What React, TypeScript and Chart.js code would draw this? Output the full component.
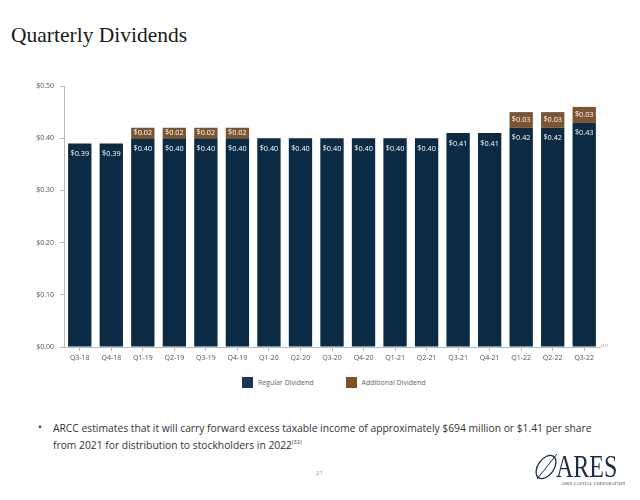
import React, { useEffect, useRef } from "react";
import { Chart, registerables } from "chart.js";

Chart.register(...registerables);

const categories = [
  "Q3-18", "Q4-18", "Q1-19", "Q2-19", "Q3-19", "Q4-19", "Q1-20", "Q2-20", "Q3-20",
  "Q4-20", "Q1-21", "Q2-21", "Q3-21", "Q4-21", "Q1-22", "Q2-22", "Q3-22",
];
const regularDividend = [
  0.39, 0.39, 0.4, 0.4, 0.4, 0.4, 0.4, 0.4, 0.4, 0.4, 0.4, 0.4, 0.41, 0.41, 0.42, 0.42, 0.43,
];
const additionalDividend = [
  0, 0, 0.02, 0.02, 0.02, 0.02, 0, 0, 0, 0, 0, 0, 0, 0, 0.03, 0.03, 0.03,
];
const seriesNames = ["Regular Dividend", "Additional Dividend"];
const seriesColors = ["#0b2a43", "#7c5530"];
const yTickValues = [0, 0.1, 0.2, 0.3, 0.4, 0.5];

const FONT = "'Open Sans', 'DejaVu Sans', sans-serif";

const barLabels = {
  id: "barLabels",
  afterDatasetsDraw(chart: any) {
    const ctx = chart.ctx;
    ctx.save();
    ctx.fillStyle = "#ffffff";
    ctx.font = `7.3px ${FONT}`;
    ctx.textAlign = "center";
    ctx.textBaseline = "middle";
    chart.data.datasets.forEach((ds: any, di: number) => {
      const meta = chart.getDatasetMeta(di);
      meta.data.forEach((el: any, i: number) => {
        const v = ds.data[i];
        if (!v) return;
        const txt = "$" + v.toFixed(2);
        let y;
        if (di === 0) y = el.y + 10.5;
        else y = (el.y + el.base) / 2;
        ctx.fillText(txt, el.x, y);
      });
    });
    ctx.restore();
  },
};

function ChartCanvas() {
  const ref = useRef<HTMLCanvasElement | null>(null);
  useEffect(() => {
    if (!ref.current) return;
    const chart = new Chart(ref.current, {
      type: "bar",
      data: {
        labels: categories,
        datasets: [
          {
            label: seriesNames[0],
            data: regularDividend,
            backgroundColor: seriesColors[0],
            borderWidth: 0,
            barPercentage: 0.74,
            categoryPercentage: 1,
          },
          {
            label: seriesNames[1],
            data: additionalDividend,
            backgroundColor: seriesColors[1],
            borderWidth: 0,
            barPercentage: 0.74,
            categoryPercentage: 1,
          },
        ],
      },
      options: {
        animation: false,
        responsive: false,
        devicePixelRatio: 1,
        layout: { padding: { top: 86, left: 0, right: 40, bottom: 0 } },
        plugins: {
          legend: { display: false },
          tooltip: { enabled: false },
        },
        scales: {
          x: {
            stacked: true,
            afterFit: (s: any) => {
              s.height = 23;
            },
            grid: {
              display: true,
              drawOnChartArea: false,
              offset: false,
              tickLength: 4,
              color: "#b8b8b8",
            },
            border: { display: true, color: "#b8b8b8", width: 1 },
            ticks: {
              color: "#555",
              font: { family: FONT, size: 7 },
              padding: 3,
              maxRotation: 0,
              autoSkip: false,
            },
          },
          y: {
            stacked: true,
            min: 0,
            max: 0.5,
            afterFit: (s: any) => {
              s.width = 64;
            },
            afterBuildTicks: (s: any) => {
              s.ticks = yTickValues.map((v) => ({ value: v }));
            },
            grid: {
              display: true,
              drawOnChartArea: false,
              tickLength: 4,
              color: "#b8b8b8",
            },
            border: { display: true, color: "#b8b8b8", width: 1 },
            ticks: {
              color: "#555",
              font: { family: FONT, size: 7 },
              padding: 6,
              callback: (v: any) => "$" + Number(v).toFixed(2),
            },
          },
        },
      },
      plugins: [barLabels],
    });
    return () => chart.destroy();
  }, []);
  return (
    <canvas
      ref={ref}
      width={640}
      height={370}
      style={{ position: "absolute", left: 0, top: 0, width: 640, height: 370 }}
    />
  );
}

export default function App() {
  return (
    <div
      style={{
        position: "fixed",
        left: 0,
        top: 0,
        width: 640,
        height: 500,
        background: "#fff",
        overflow: "hidden",
      }}
    >
      <div
        style={{
          position: "absolute",
          left: 11,
          top: 22,
          fontFamily: "'Liberation Serif', serif",
          fontSize: 21.5,
          lineHeight: "26px",
          color: "#1a1a1a",
          whiteSpace: "nowrap",
        }}
      >
        Quarterly Dividends
      </div>
      <ChartCanvas />
      <div
        style={{
          position: "absolute",
          left: 601,
          top: 343,
          fontFamily: FONT,
          fontSize: 4,
          color: "#888",
        }}
      >
        (31)
      </div>
      {/* legend */}
      <div
        style={{
          position: "absolute",
          left: 242,
          top: 377,
          display: "flex",
          alignItems: "center",
          fontFamily: FONT,
          fontSize: 7,
          color: "#666",
          whiteSpace: "nowrap",
        }}
      >
        {seriesNames.map((n, i) => (
          <div
            key={n}
            style={{ display: "flex", alignItems: "center", marginRight: i === 0 ? 32 : 0 }}
          >
            <span
              style={{
                display: "inline-block",
                width: 11,
                height: 11,
                background: i === 0 ? "#1c3557" : "#7c5128",
                marginRight: 5,
              }}
            />
            <span>{n}</span>
          </div>
        ))}
      </div>
      {/* bullet */}
      <div
        style={{
          position: "absolute",
          left: 38,
          top: 420,
          fontFamily: FONT,
          fontSize: 10.3,
          color: "#333",
        }}
      >
        •
      </div>
      <div
        style={{
          position: "absolute",
          left: 53,
          top: 420,
          fontFamily: FONT,
          fontSize: 10.3,
          lineHeight: "17px",
          color: "#333",
          whiteSpace: "nowrap",
        }}
      >
        ARCC estimates that it will carry forward excess taxable income of approximately $694 million or $1.41 per share
        <br />
        from 2021 for distribution to stockholders in 2022
        <sup style={{ fontSize: 5.5, verticalAlign: "top", position: "relative", top: -3 }}>(32)</sup>
      </div>
      <div
        style={{
          position: "absolute",
          left: 316,
          top: 469,
          fontFamily: FONT,
          fontSize: 6,
          color: "#999",
        }}
      >
        21
      </div>
      {/* logo */}
      <svg
        style={{ position: "absolute", left: 532, top: 450 }}
        width={30}
        height={34}
        viewBox="0 0 30 34"
      >
        <ellipse
          cx={14}
          cy={17}
          rx={8}
          ry={13}
          transform="rotate(35 14 17)"
          fill="none"
          stroke="#1e2b45"
          strokeWidth={1.3}
        />
        <line x1={5} y1={29} x2={25} y2={4} stroke="#1e2b45" strokeWidth={1} />
      </svg>
      <div
        style={{
          position: "absolute",
          left: 556,
          top: 450,
          fontFamily: "'Liberation Serif', serif",
          fontSize: 32,
          lineHeight: "32px",
          color: "#1e2b45",
          transform: "scaleX(0.75)",
          transformOrigin: "left top",
          whiteSpace: "nowrap",
        }}
      >
        ARES
      </div>
      <div
        style={{
          position: "absolute",
          left: 561,
          top: 481,
          fontFamily: "'Liberation Serif', serif",
          fontSize: 5,
          color: "#444",
          whiteSpace: "nowrap",
          transform: "scaleX(0.85)",
          transformOrigin: "left top",
          letterSpacing: 0.2,
        }}
      >
        ARES CAPITAL CORPORATION
      </div>
    </div>
  );
}
